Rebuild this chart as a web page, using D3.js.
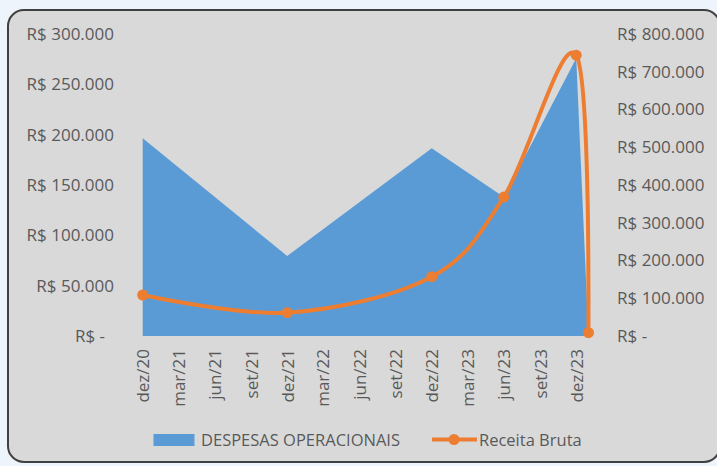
<!DOCTYPE html>
<html>
<head>
<meta charset="utf-8">
<script src="https://cdn.jsdelivr.net/npm/d3@7"></script>
<style>
  html, body { margin: 0; padding: 0; background: #eef4fc; }
  svg { display: block; }
  text { font-family: "Open Sans", sans-serif; fill: #595959; }
</style>
</head>
<body>
<div id="chart"></div>
<script>
// Data
const dates = ['2020-12-01', '2021-12-01', '2022-12-01', '2023-06-01', '2023-12-01', '2024-01-01'];
const despesas = [196500, 79500, 186500, 138000, 276000, 0];     // left axis
const receita = [108600, 61700, 157000, 368000, 744000, 8700];   // right axis
const tickDates = ['2020-12-01', '2021-03-01', '2021-06-01', '2021-09-01', '2021-12-01', '2022-03-01',
  '2022-06-01', '2022-09-01', '2022-12-01', '2023-03-01', '2023-06-01', '2023-09-01', '2023-12-01'];
const monthNames = ['jan', 'fev', 'mar', 'abr', 'mai', 'jun', 'jul', 'ago', 'set', 'out', 'nov', 'dez'];
const leftTicks = [0, 50000, 100000, 150000, 200000, 250000, 300000];
const rightTicks = [0, 100000, 200000, 300000, 400000, 500000, 600000, 700000, 800000];
const seriesNames = ['DESPESAS OPERACIONAIS', 'Receita Bruta'];

const width = 717, height = 466;
const parse = d3.utcParse('%Y-%m-%d');

const svg = d3.select('#chart').append('svg')
  .attr('width', width)
  .attr('height', height);

// chart frame
svg.append('rect')
  .attr('x', 8).attr('y', 10)
  .attr('width', 712).attr('height', 452)
  .attr('rx', 16)
  .attr('fill', '#d9d9d9')
  .attr('stroke', '#404040')
  .attr('stroke-width', 2);

const x = d3.scaleUtc()
  .domain([parse(dates[0]), parse(dates[dates.length - 1])])
  .range([142.7, 588.5]);
const yLeft = d3.scaleLinear().domain([0, 300000]).range([336, 34]);
const yRight = d3.scaleLinear().domain([0, 800000]).range([336, 34]);

const fmt = v => v === 0 ? 'R$ -' : 'R$ ' + d3.format(',')(v).replace(/,/g, '.');

// area series
const areaData = dates.map((d, i) => ({ date: parse(d), v: despesas[i] }));
svg.append('path')
  .datum(areaData)
  .attr('fill', '#5b9bd5')
  .attr('d', d3.area()
    .x(d => x(d.date))
    .y0(yLeft(0))
    .y1(d => yLeft(d.v)));

// line series (smoothed)
const lineData = dates.map((d, i) => ({ date: parse(d), v: receita[i] }));
svg.append('path')
  .datum(lineData)
  .attr('fill', 'none')
  .attr('stroke', '#ed7d31')
  .attr('stroke-width', 4)
  .attr('stroke-linejoin', 'round')
  .attr('d', d3.line()
    .curve(d3.curveCardinal.tension(0))
    .x(d => x(d.date))
    .y(d => yRight(d.v)));

svg.selectAll('circle.mk')
  .data(lineData)
  .join('circle')
  .attr('class', 'mk')
  .attr('cx', d => x(d.date))
  .attr('cy', d => yRight(d.v))
  .attr('r', 5.5)
  .attr('fill', '#ed7d31');

// left axis labels
svg.append('g')
  .attr('transform', 'translate(114,0)')
  .call(d3.axisLeft(yLeft).tickValues(leftTicks).tickSize(0).tickPadding(0).tickFormat(fmt))
  .call(g => g.select('.domain').remove())
  .call(g => g.selectAll('text')
    .attr('font-size', 17)
    .attr('fill', '#595959')
    .attr('font-family', '"Open Sans", sans-serif')
    .attr('dx', d => d === 0 ? -9 : 0));

// right axis labels
svg.append('g')
  .attr('transform', 'translate(617,0)')
  .call(d3.axisRight(yRight).tickValues(rightTicks).tickSize(0).tickPadding(0).tickFormat(fmt))
  .call(g => g.select('.domain').remove())
  .call(g => g.selectAll('text')
    .attr('font-size', 17)
    .attr('fill', '#595959')
    .attr('font-family', '"Open Sans", sans-serif'));

// x axis labels, rotated
const fmtDate = d => monthNames[d.getUTCMonth()] + '/' + String(d.getUTCFullYear()).slice(2);
svg.append('g')
  .attr('transform', 'translate(0,349)')
  .call(d3.axisBottom(x).tickValues(tickDates.map(parse)).tickSize(0).tickPadding(0).tickFormat(fmtDate))
  .call(g => g.select('.domain').remove())
  .call(g => g.selectAll('text')
    .attr('font-size', 17)
    .attr('fill', '#595959')
    .attr('font-family', '"Open Sans", sans-serif')
    .attr('text-anchor', 'end')
    .attr('transform', 'rotate(-90)')
    .attr('x', 0)
    .attr('y', 0)
    .attr('dy', '0.35em'));

// legend
const legend = svg.append('g');
legend.append('rect')
  .attr('x', 153.5).attr('y', 434)
  .attr('width', 41).attr('height', 12)
  .attr('fill', '#5b9bd5');
legend.append('text')
  .attr('x', 201).attr('y', 440)
  .attr('dy', '0.35em')
  .attr('font-size', 16.5)
  .text(seriesNames[0]);
legend.append('line')
  .attr('x1', 432).attr('x2', 477)
  .attr('y1', 439.5).attr('y2', 439.5)
  .attr('stroke', '#ed7d31')
  .attr('stroke-width', 4);
legend.append('circle')
  .attr('cx', 454).attr('cy', 439.5)
  .attr('r', 5.5)
  .attr('fill', '#ed7d31');
legend.append('text')
  .attr('x', 479).attr('y', 440)
  .attr('dy', '0.35em')
  .attr('font-size', 16.5)
  .text(seriesNames[1]);
</script>
</body>
</html>
